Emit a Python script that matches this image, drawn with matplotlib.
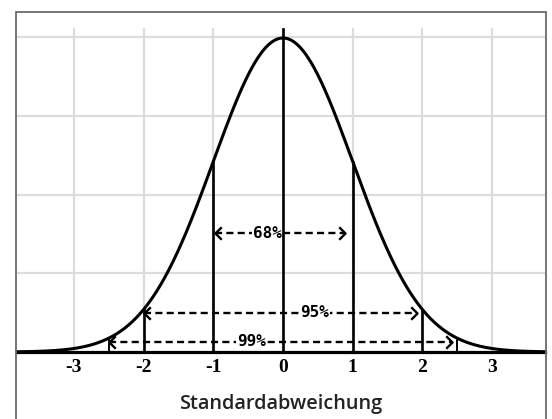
import numpy as np
import matplotlib
matplotlib.use("Agg")
import matplotlib.pyplot as plt
from matplotlib.patches import Rectangle
from matplotlib.path import Path

# ---- data ----
mean = 0.0
sd = 1.0
tick_values = [-3, -2, -1, 0, 1, 2, 3]
tick_labels = ['-3', '-2', '-1', '0', '1', '2', '3']
grid_y = [0.1, 0.2, 0.3, 0.4]
sigma_marks = [-2.5, -2, -1, 1, 2, 2.5]
range_labels = ['68%', '95%', '99%']
range_left = [-0.975, -2.0, -2.5]
range_right = [0.89, 1.92, 2.42]
range_y = [0.151, 0.050, 0.013]
range_label_x = [-0.23, 0.46, -0.45]
xlabel_text = 'Standardabweichung'

W, H = 552, 419
fig = plt.figure(figsize=(W / 100, H / 100), dpi=100)
fig.patch.set_facecolor('white')

# outer frame
fig.patches.append(Rectangle((16 / W, -0.05), (546 - 16) / W, (419 - 12) / H + 0.05,
                             transform=fig.transFigure, fill=False,
                             edgecolor='#6a6a6a', lw=1.3))

ax = fig.add_axes([17 / W, (H - 352) / H, (545 - 17) / W, (352 - 12) / H])
ax.set_xlim(-3.816, 3.759)
ax.set_ylim(0, 0.432)
for s in ax.spines.values():
    s.set_visible(False)

def pdf(x):
    return np.exp(-0.5 * ((x - mean) / sd) ** 2) / (sd * np.sqrt(2 * np.pi))

grid_c = '#dcdcdc'
for y in grid_y:
    ax.axhline(y, color=grid_c, lw=1.6, zorder=1)
for x in tick_values:
    ax.plot([x, x], [0, 0.41], color=grid_c, lw=1.6, zorder=1)

# baseline
ax.plot([-3.816, 3.759], [0, 0], color='black', lw=2.3, clip_on=False, zorder=3)

# curve
xs = np.linspace(-3.816, 3.759, 600)
ax.plot(xs, pdf(xs), color='black', lw=2.2, clip_on=False, zorder=4)

# sigma lines
for x in sigma_marks:
    lw = 1.4 if abs(x) == 2.5 else 1.9
    ax.plot([x, x], [0, pdf(x)], color='black', lw=lw, zorder=3)
ax.plot([0, 0], [0, 0.41], color='black', lw=1.9, zorder=3)

# range arrows
left_head = Path([(1, 1), (0, 0), (1, -1)])
right_head = Path([(-1, 1), (0, 0), (-1, -1)])
for lab, xl, xr, y, tx in zip(range_labels, range_left, range_right, range_y, range_label_x):
    ax.plot([xl, xr], [y, y], color='black', lw=1.7, ls=(0, (3.0, 1.8)), zorder=5)
    ax.plot([xl], [y], marker=left_head, ms=9, mfc='none', mec='black', mew=1.7, zorder=6)
    ax.plot([xr], [y], marker=right_head, ms=9, mfc='none', mec='black', mew=1.7, zorder=6)
    ax.text(tx, y, lab, ha='center', va='center', fontsize=11.5, fontweight='bold',
            family='DejaVu Sans Mono', zorder=7,
            bbox=dict(boxstyle='square,pad=0.05', fc='white', ec='none'))

ax.set_xticks(tick_values)
ax.set_xticklabels(tick_labels, fontfamily='Liberation Serif', fontweight='bold', fontsize=14)
ax.set_yticks([])
ax.tick_params(axis='x', length=0, pad=5)
ax.set_xlabel(xlabel_text, fontfamily='Open Sans', fontweight='semibold', fontsize=14.3,
              labelpad=13, color='#222222')

fig.savefig('out.png', dpi=100)
